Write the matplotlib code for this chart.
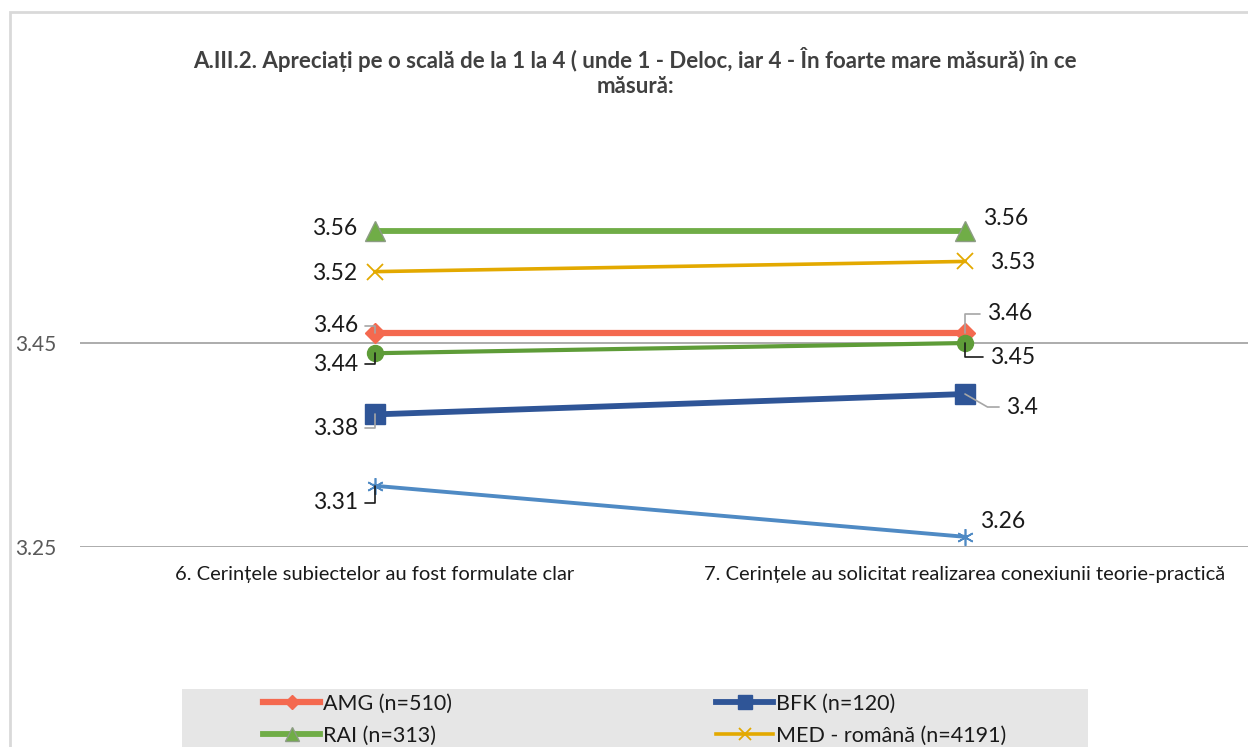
import matplotlib.pyplot as plt
from matplotlib.patches import Rectangle

plt.rcParams['font.family'] = ['Lato', 'DejaVu Sans']

title = "A.III.2. Apreciați pe o scală de la 1 la 4 ( unde 1 - Deloc, iar 4 - În foarte mare măsură) în ce\nmăsură:"
categories = ["6. Cerințele subiectelor au fost formulate clar",
              "7. Cerințele au solicitat realizarea conexiunii teorie-practică"]

amg = [3.46, 3.46]
bfk = [3.38, 3.40]
rai = [3.56, 3.56]
med_ro = [3.52, 3.53]
med_hu = [3.44, 3.45]
total = [3.31, 3.26]

series_names = ["AMG (n=510)", "BFK (n=120)", "RAI (n=313)", "MED - română (n=4191)",
                "MED - maghiară (n=320)", "Total (n=5454)"]

W, H = 1248, 747
fig = plt.figure(figsize=(W / 100, H / 100), dpi=100)
# outer chart border
fig.patches.append(Rectangle((10 / W, -0.1), 1.2, (H - 12) / H + 0.1,
                             transform=fig.transFigure, fill=False,
                             edgecolor='#D9D9D9', lw=2))
# legend background
fig.patches.append(Rectangle((182 / W, -0.1), 906 / W, (H - 689) / H + 0.1,
                             transform=fig.transFigure, facecolor='#E6E6E6',
                             edgecolor='none'))

ax = fig.add_axes([80 / W, (H - 547) / H, 1180 / W, 410 / H])
ax.set_xlim(-0.5, 1.5)
ax.set_ylim(3.25, 3.652)
ax.set_yticks([3.25, 3.45])
ax.set_yticklabels(["3.25", "3.45"])
ax.yaxis.grid(True, color='#A6A6A6', lw=1.3)
ax.set_axisbelow(True)
for s in ax.spines.values():
    s.set_visible(False)
ax.tick_params(axis='y', length=0, pad=17, labelsize=15, labelcolor='#595959')
ax.tick_params(axis='x', length=0, pad=14, labelsize=14.5, labelcolor='#1a1a1a')
ax.set_xticks([0, 1])
ax.set_xticklabels(categories)

x = [0, 1]
h_amg, = ax.plot(x, amg, color='#F4694F', lw=4.5, marker='D', ms=10, mec='#F4694F', label=series_names[0])
h_bfk, = ax.plot(x, bfk, color='#2F5597', lw=4.2, marker='s', ms=14, mec='#2F5597', label=series_names[1])
h_rai, = ax.plot(x, rai, color='#70AD47', lw=4.2, marker='^', ms=14, mec='#8C9C84', label=series_names[2])
h_med, = ax.plot(x, med_ro, color='#E3A900', lw=2.6, marker='x', ms=12, mew=1.3, label=series_names[3])
h_hu, = ax.plot(x, med_hu, color='#5E9C38', lw=3, marker='o', ms=11.5, label=series_names[4])
h_tot, = ax.plot(x, total, color='#4F8AC4', lw=2.8, marker=(6, 2, 0), ms=12, mew=1.2, label=series_names[5])

fig.text(0.509, (H - 72) / H, title, ha='center', va='center', fontsize=16,
         fontweight='bold', color='#404040', linespacing=1.25)


def label(xv, yv, text, dx, dy, lead=False, lc='#A6A6A6', angle_b=90):
    ha = 'right' if dx < 0 else 'left'
    kw = {}
    if lead:
        kw['arrowprops'] = dict(arrowstyle='-', color=lc, lw=1.2, shrinkA=3, shrinkB=0,
                                relpos=(1, 0.5) if dx < 0 else (0, 0.5),
                                connectionstyle='angle,angleA=0,angleB=%d,rad=0' % angle_b)
    ax.annotate(text, (xv, yv), xytext=(dx, dy), textcoords='offset pixels',
                ha=ha, va='center', fontsize=16.5, color='#1a1a1a', **kw)


# left category labels
label(0, rai[0], f"{rai[0]:g}", -18, 2)
label(0, med_ro[0], f"{med_ro[0]:g}", -18, -2)
label(0, amg[0], f"{amg[0]:g}", -17, 7, lead=True)
label(0, med_hu[0], f"{med_hu[0]:g}", -17, -11, lead=True, lc='#1a1a1a')
label(0, bfk[0], f"{bfk[0]:g}", -17, -14, lead=True)
label(0, total[0], f"{total[0]:g}", -17, -17, lead=True, lc='#1a1a1a')
# right category labels
label(1, rai[1], f"{rai[1]:g}", 18, 12)
label(1, med_ro[1], f"{med_ro[1]:g}", 25, -1)
label(1, amg[1], f"{amg[1]:g}", 22, 19, lead=True)
label(1, med_hu[1], f"{med_hu[1]:g}", 25, -14, lead=True, lc='#1a1a1a')
label(1, bfk[1], f"{bfk[1]:g}", 41, -13, lead=True, angle_b=-30)
label(1, total[1], f"{total[1]:g}", 15, 15)

leg_kw = dict(loc='upper left', frameon=False, fontsize=15.5, handlelength=2.65,
              handletextpad=0.15, borderpad=0, labelspacing=0.55, borderaxespad=0,
              markerscale=0.75, labelcolor='#1a1a1a')
col1 = [h_amg, h_rai, h_hu]
col2 = [h_bfk, h_med, h_tot]
fig.legend(handles=col1, labels=[h.get_label() for h in col1],
           bbox_to_anchor=(263 / W, (H - 694) / H), **leg_kw)
fig.legend(handles=col2, labels=[h.get_label() for h in col2],
           bbox_to_anchor=(716 / W, (H - 694) / H), **leg_kw)

fig.savefig("out.png", dpi=100)
